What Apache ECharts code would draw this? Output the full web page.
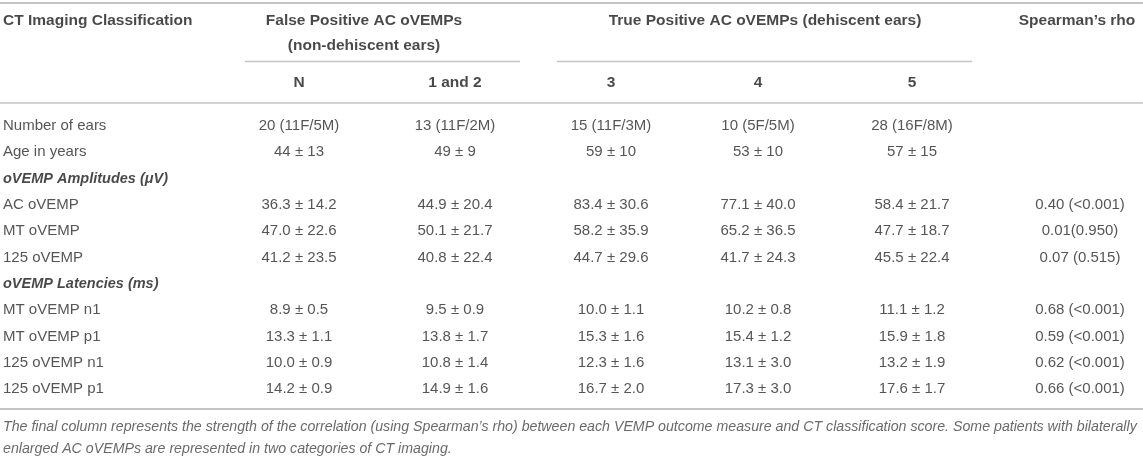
<!DOCTYPE html>
<html>
<head>
<meta charset="utf-8">
<script src="https://cdn.jsdelivr.net/npm/echarts@6/dist/echarts.min.js"></script>
<style>
  html, body { margin: 0; padding: 0; background: #fff; }
  #main { width: 1143px; height: 457px; }
</style>
</head>
<body>
<div id="main"></div>
<script>
	// table content
	var headTitle = 'CT Imaging Classification';
	var groupFalse = ['False Positive AC oVEMPs', '(non-dehiscent ears)'];
	var groupTrue = 'True Positive AC oVEMPs (dehiscent ears)';
	var rhoTitle = 'Spearman\u2019s rho';
	var columns = ['N', '1 and 2', '3', '4', '5'];

	var rowLabels = ['Number of ears', 'Age in years', 'oVEMP Amplitudes (\u03bcV)', 'AC oVEMP', 'MT oVEMP', '125 oVEMP',
		'oVEMP Latencies (ms)', 'MT oVEMP n1', 'MT oVEMP p1', '125 oVEMP n1', '125 oVEMP p1'];
	var sectionRows = [2, 6];

	var earsRow = ['20 (11F/5M)', '13 (11F/2M)', '15 (11F/3M)', '10 (5F/5M)', '28 (16F/8M)', ''];
	var ageRow = ['44 \u00b1 13', '49 \u00b1 9', '59 \u00b1 10', '53 \u00b1 10', '57 \u00b1 15', ''];
	var acAmpRow = ['36.3 \u00b1 14.2', '44.9 \u00b1 20.4', '83.4 \u00b1 30.6', '77.1 \u00b1 40.0', '58.4 \u00b1 21.7', '0.40 (<0.001)'];
	var mtAmpRow = ['47.0 \u00b1 22.6', '50.1 \u00b1 21.7', '58.2 \u00b1 35.9', '65.2 \u00b1 36.5', '47.7 \u00b1 18.7', '0.01(0.950)'];
	var amp125Row = ['41.2 \u00b1 23.5', '40.8 \u00b1 22.4', '44.7 \u00b1 29.6', '41.7 \u00b1 24.3', '45.5 \u00b1 22.4', '0.07 (0.515)'];
	var mtN1Row = ['8.9 \u00b1 0.5', '9.5 \u00b1 0.9', '10.0 \u00b1 1.1', '10.2 \u00b1 0.8', '11.1 \u00b1 1.2', '0.68 (<0.001)'];
	var mtP1Row = ['13.3 \u00b1 1.1', '13.8 \u00b1 1.7', '15.3 \u00b1 1.6', '15.4 \u00b1 1.2', '15.9 \u00b1 1.8', '0.59 (<0.001)'];
	var n1125Row = ['10.0 \u00b1 0.9', '10.8 \u00b1 1.4', '12.3 \u00b1 1.6', '13.1 \u00b1 3.0', '13.2 \u00b1 1.9', '0.62 (<0.001)'];
	var p1125Row = ['14.2 \u00b1 0.9', '14.9 \u00b1 1.6', '16.7 \u00b1 2.0', '17.3 \u00b1 3.0', '17.6 \u00b1 1.7', '0.66 (<0.001)'];
	var bodyRows = [earsRow, ageRow, null, acAmpRow, mtAmpRow, amp125Row, null, mtN1Row, mtP1Row, n1125Row, p1125Row];

	var footnote = [
		'The final column represents the strength of the correlation (using Spearman\u2019s rho) between each VEMP outcome measure and CT classification score. Some patients with bilaterally',
		'enlarged AC oVEMPs are represented in two categories of CT imaging.'
	];

	// layout (pixels)
	var W = 1143, H = 457;
	var labelX = 3;
	var colX = [299, 455, 611, 758, 912, 1080];
	var bodyTop = 126, rowH = 26.3;
	var font = 'Liberation Sans';

	function rowY(i) { return bodyTop + i * rowH; }

	var leftCells = [], titleCells = [], sectionCells = [], valueCells = [], headCells = [], footCells = [];

	titleCells.push([labelX, 21, headTitle]);
	headCells.push([364, 21, groupFalse[0]]);
	headCells.push([364, 46, groupFalse[1]]);
	headCells.push([765, 21, groupTrue]);
	headCells.push([1077, 21, rhoTitle]);
	columns.forEach(function (c, i) { headCells.push([colX[i], 83, c]); });

	rowLabels.forEach(function (lab, i) {
		if (sectionRows.indexOf(i) >= 0) {
			sectionCells.push([labelX, rowY(i), lab]);
		} else {
			leftCells.push([labelX, rowY(i), lab]);
			bodyRows[i].forEach(function (v, c) {
				if (v) valueCells.push([colX[c], rowY(i), v]);
			});
		}
	});
	footCells.push([labelX, 427, footnote[0]]);
	footCells.push([labelX, 449, footnote[1]]);

	function textSeries(data, align, style) {
		return {
			type: 'scatter',
			data: data,
			symbolSize: 0,
			silent: true,
			label: Object.assign({
				show: true,
				position: 'inside',
				align: align,
				verticalAlign: 'middle',
				fontFamily: font,
				fontSize: 15,
				color: '#2b2b2b',
				formatter: function (p) { return p.value[2]; }
			}, style)
		};
	}

	var rules = [
		{ coords: [[0, 3], [W, 3]], lineStyle: { width: 2 } },
		{ coords: [[245, 61], [520, 61]], lineStyle: { width: 1.3 } },
		{ coords: [[557, 61], [972, 61]], lineStyle: { width: 1.3 } },
		{ coords: [[0, 103], [W, 103]], lineStyle: { width: 1.5 } },
		{ coords: [[0, 409], [W, 409]], lineStyle: { width: 2 } }
	];

	var myChart = echarts.init(document.getElementById('main'));
	var option = {
		animation: false,
		backgroundColor: '#fff',
		grid: { left: 0, right: 0, top: 0, bottom: 0 },
		xAxis: { type: 'value', min: 0, max: W, show: false },
		yAxis: { type: 'value', min: 0, max: H, inverse: true, show: false },
		series: [
			{
				type: 'lines',
				coordinateSystem: 'cartesian2d',
				silent: true,
				lineStyle: { color: '#c4c4c4', opacity: 1 },
				data: rules
			},
			textSeries(leftCells, 'left', {}),
			textSeries(valueCells, 'center', {}),
			textSeries(titleCells, 'left', { fontWeight: 'bold', fontSize: 15.5, color: '#1a1a1a' }),
			textSeries(sectionCells, 'left', { fontWeight: 'bold', fontStyle: 'italic', fontSize: 14.5, color: '#1a1a1a' }),
			textSeries(headCells, 'center', { fontWeight: 'bold', fontSize: 15.5, color: '#1a1a1a' }),
			textSeries(footCells, 'left', { fontStyle: 'italic', fontSize: 14.2, color: '#444' })
		]
	};
	myChart.setOption(option);
</script>
</body>
</html>
